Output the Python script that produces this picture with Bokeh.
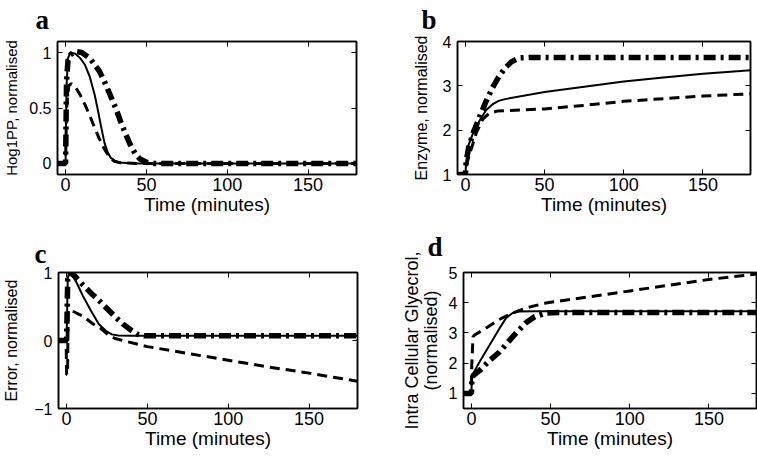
from bokeh.plotting import figure
from bokeh.layouts import column, row
from bokeh.models import Range1d, LinearAxis, FixedTicker, Title
from bokeh.embed import file_html
from bokeh.resources import INLINE

# ---------------- data ----------------
x_ticks = [0, 50, 100, 150]
x_label = "Time (minutes)"

# panel a: Hog1PP
a_t_solid = [-5, 0, 0.6, 1.5, 3, 6, 9, 12, 15, 18, 20, 22, 24, 26, 28, 31, 35, 45, 100, 180]
a_solid = [0, 0, 0.7, 0.95, 1.0, 0.99, 0.95, 0.89, 0.78, 0.62, 0.48, 0.33, 0.19, 0.1, 0.05, 0.02, 0.005, 0, 0, 0]
a_t_dash = [-5, 0, 0.6, 2, 3.5, 6, 9, 12, 15, 18, 21, 24, 27, 30, 34, 45, 100, 180]
a_dash = [0, 0, 0.5, 0.7, 0.72, 0.69, 0.62, 0.53, 0.43, 0.32, 0.22, 0.13, 0.06, 0.02, 0.005, 0, 0, 0]
a_t_dd = [-5, 0, 0.6, 1.5, 3, 6, 10, 15, 21, 24, 27.5, 31, 34, 37, 40, 43, 46, 50, 55, 100, 180]
a_dd = [0, 0, 0.75, 0.93, 0.98, 1.01, 1.0, 0.95, 0.83, 0.74, 0.62, 0.5, 0.38, 0.27, 0.17, 0.09, 0.04, 0.01, 0, 0, 0]
a_yticks = [0, 0.5, 1]

# panel b: Enzyme
b_t_solid = [-5, 0, 0.5, 2, 5, 9, 13, 17, 21, 25, 50, 75, 100, 125, 150, 180]
b_solid = [1, 1, 1.3, 1.67, 1.95, 2.22, 2.45, 2.58, 2.66, 2.7, 2.86, 2.98, 3.1, 3.19, 3.27, 3.35]
b_t_dash = [-5, 0, 0.5, 3, 7, 11, 15, 20, 25, 50, 75, 100, 125, 150, 180]
b_dash = [1, 1, 1.2, 1.5, 1.95, 2.25, 2.38, 2.43, 2.44, 2.48, 2.56, 2.65, 2.71, 2.77, 2.82]
b_t_dd = [-5, 0, 0.5, 2, 5, 9, 13, 17, 21, 25, 29, 34, 40, 60, 180]
b_dd = [1, 1, 1.3, 1.6, 1.95, 2.3, 2.65, 2.95, 3.2, 3.4, 3.54, 3.63, 3.64, 3.64, 3.64]
b_yticks = [1, 2, 3, 4]

# panel c: Error
c_t_solid = [-5, 0, 0.7, 1.5, 3, 6, 10, 15, 20, 25, 28, 32, 40, 180]
c_solid = [0, 0, 0.9, 1.0, 0.97, 0.86, 0.66, 0.44, 0.24, 0.13, 0.09, 0.075, 0.07, 0.07]
c_t_dash = [-5, -0.3, 0, 0.6, 1, 3, 10, 16, 21.5, 26, 30, 38, 50, 75, 100, 125, 150, 180]
c_dash = [0, 0, -0.5, -0.5, 0.45, 0.44, 0.36, 0.25, 0.17, 0.08, 0.03, -0.02, -0.09, -0.19, -0.29, -0.39, -0.48, -0.6]
c_t_dd = [-5, 0, 0.7, 2, 5, 10, 15, 20, 25, 30, 35, 40, 44, 48, 180]
c_dd = [0, 0, 0.9, 1.0, 0.95, 0.82, 0.7, 0.59, 0.47, 0.35, 0.24, 0.15, 0.09, 0.07, 0.07]
c_yticks = [-1, 0, 1]

# panel d: Intra cellular glycerol
d_t_solid = [-5, 0, 0.3, 5, 11.5, 17.7, 22, 26, 30, 40, 180]
d_solid = [1, 1, 1.58, 2.03, 2.6, 3.15, 3.5, 3.66, 3.71, 3.72, 3.72]
d_t_dash = [-5, 0, 0.2, 1, 2, 9, 17, 26, 34, 47, 75, 100, 125, 150, 180]
d_dash = [1, 1, 1.9, 2.87, 2.93, 3.15, 3.43, 3.66, 3.82, 3.99, 4.2, 4.39, 4.58, 4.77, 4.95]
d_t_dd = [-5, 0, 0.3, 5, 11.5, 17.7, 26, 34, 40, 47, 55, 180]
d_dd = [1, 1, 1.55, 1.75, 2.09, 2.37, 2.87, 3.32, 3.54, 3.66, 3.68, 3.68]
d_yticks = [1, 2, 3, 4, 5]

FONT = "Liberation Sans"


def make_panel(letter, ylabel, yrange, yticks, series, left, right, top, bottom,
               fw, fh, ylabel_size, ylabel_standoff, letter_offset, spacer):
    p = figure(frame_width=fw, frame_height=fh, output_backend="svg",
               toolbar_location=None, x_range=Range1d(-5, 180),
               y_range=Range1d(*yrange),
               min_border_left=left, min_border_right=right,
               min_border_top=top, min_border_bottom=bottom)
    p.grid.visible = False
    p.background_fill_color = "white"
    p.border_fill_color = "white"
    p.outline_line_color = "black"
    p.outline_line_width = 1.5
    p.outline_line_alpha = 1

    for ax, ticks in ((p.xaxis[0], x_ticks), (p.yaxis[0], yticks)):
        ax.ticker = FixedTicker(ticks=ticks)
        ax.major_tick_in = 5
        ax.major_tick_out = 0
        ax.minor_tick_line_color = None
        ax.axis_line_color = "black"
        ax.axis_line_width = 1.5
        ax.major_tick_line_color = "black"
        ax.major_label_text_font = FONT
        ax.major_label_text_color = "black"
        ax.axis_label_text_font = FONT
        ax.axis_label_text_font_style = "normal"
        ax.axis_label_text_color = "black"
    xa = p.xaxis[0]
    xa.axis_label = x_label
    xa.major_label_text_font_size = "18px"
    xa.axis_label_text_font_size = "19px"
    xa.major_label_standoff = 3
    xa.axis_label_standoff = 0
    ya = p.yaxis[0]
    ya.axis_label = ylabel
    ya.major_label_text_font_size = "16px"
    ya.axis_label_text_font_size = ylabel_size
    ya.axis_label_text_line_height = 0.95
    ya.major_label_standoff = 6
    ya.axis_label_standoff = ylabel_standoff

    for loc, ticks in (("above", x_ticks), ("right", yticks)):
        ax = LinearAxis(ticker=FixedTicker(ticks=ticks),
                        major_label_text_font_size="0px",
                        major_label_text_color=None,
                        major_label_standoff=0,
                        major_tick_in=5, major_tick_out=0,
                        minor_tick_line_color=None,
                        axis_line_color="black", axis_line_width=1.5,
                        major_tick_line_color="black")
        p.add_layout(ax, loc)

    # white (invisible) spacer between the frame and the panel letter
    p.add_layout(Title(text=".", text_color="white", text_font_size="8px",
                       standoff=spacer), "above")
    p.add_layout(Title(text=letter, align="left", offset=letter_offset,
                       standoff=-16, vertical_align="bottom",
                       text_font="Liberation Serif", text_font_style="bold",
                       text_font_size="27px", text_color="black"), "above")

    (ts, ys), (td, yd), (tdd, ydd) = series
    p.line(ts, ys, line_color="black", line_width=2)
    p.line(td, yd, line_color="black", line_width=3, line_dash="10 6")
    p.line(tdd, ydd, line_color="black", line_width=5.5, line_dash="12 5 3 5")
    return p


pa = make_panel("a", "Hog1PP, normalised", (-0.1, 1.1), a_yticks,
                [(a_t_solid, a_solid), (a_t_dash, a_dash), (a_t_dd, a_dd)],
                57, 41, 41, 52, 299, 133, "15px", 6, -22, 8)
pb = make_panel("b", "Enzyme, normalised", (1, 4), b_yticks,
                [(b_t_solid, b_solid), (b_t_dash, b_dash), (b_t_dd, b_dd)],
                60, 6, 41, 52, 293, 133, "16px", 10, -36, 8)
pc = make_panel("c", "Error, normalised", (-1, 1), c_yticks,
                [(c_t_solid, c_solid), (c_t_dash, c_dash), (c_t_dd, c_dd)],
                57, 41, 46, 47, 299, 136, "16px", 11, -24, 5)
pd = make_panel("d", "Intra Cellular Glyecrol,\n(normalised)", (0.5, 5), d_yticks,
                [(d_t_solid, d_solid), (d_t_dash, d_dash), (d_t_dd, d_dd)],
                60, 6, 46, 47, 293, 136, "18px", 5, -36, 12)

layout = column(row(pa, pb), row(pc, pd))

open("out.html", "w").write(file_html(layout, INLINE))
